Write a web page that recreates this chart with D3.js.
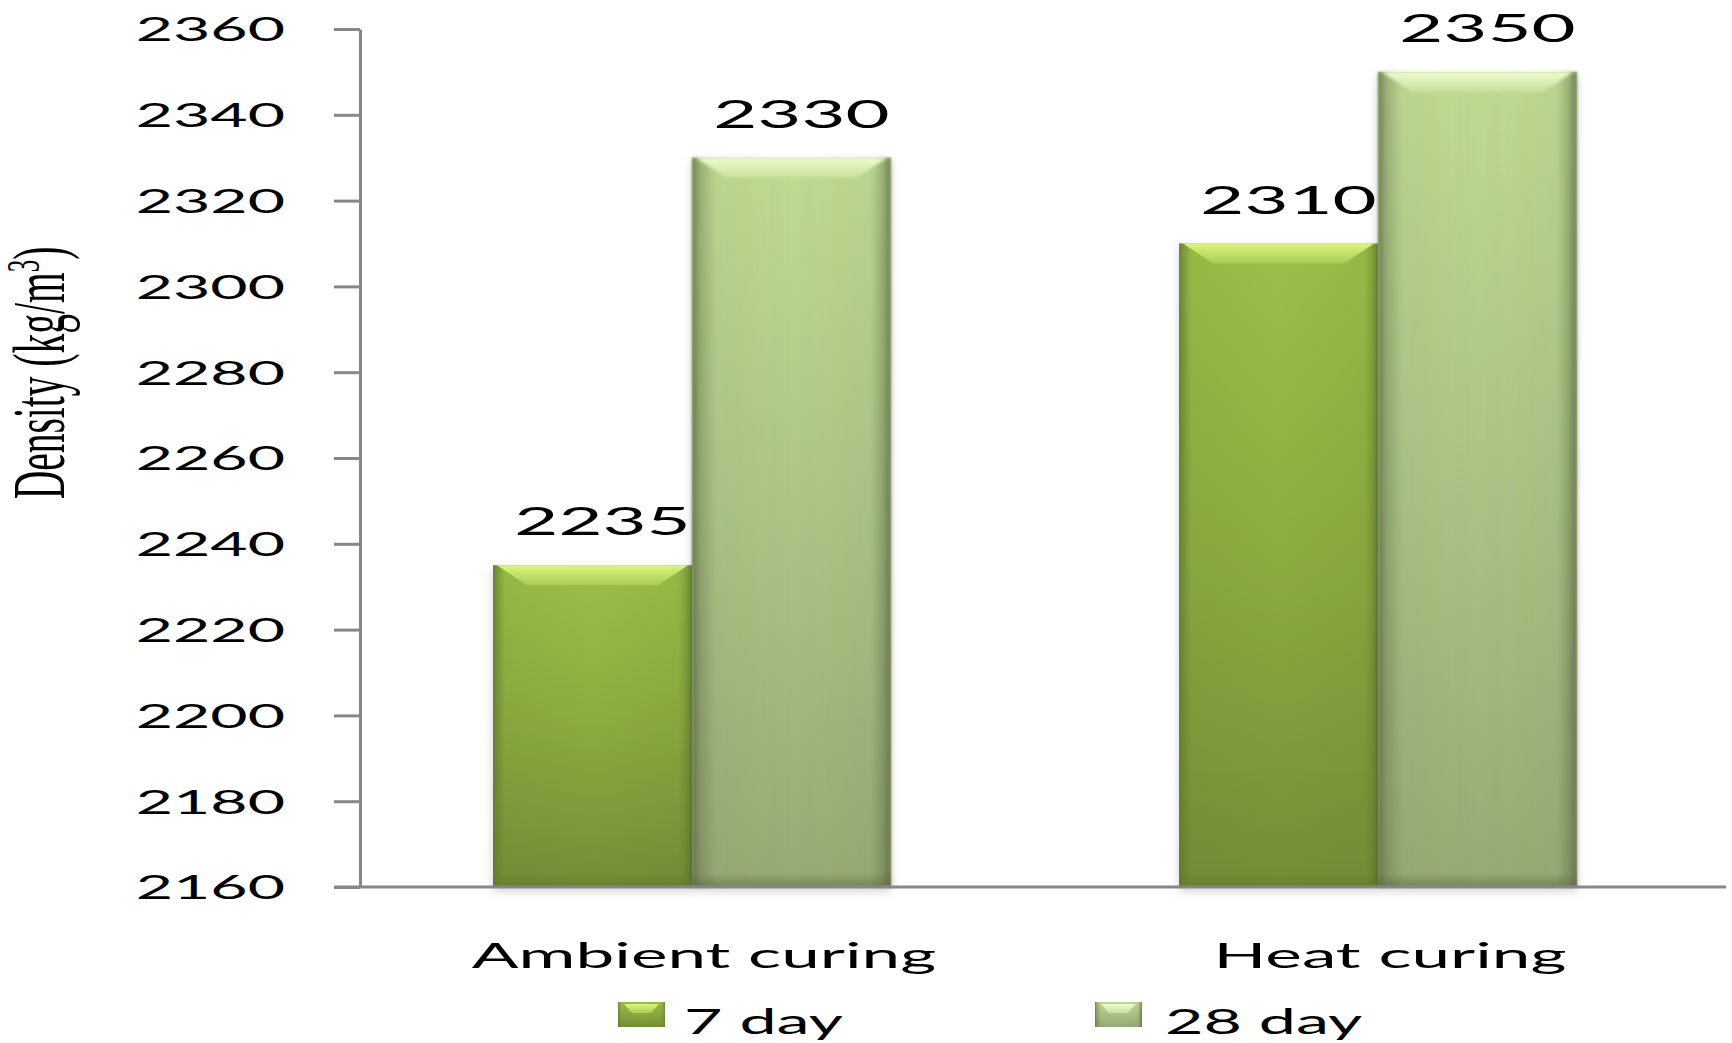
<!DOCTYPE html>
<html>
<head>
<meta charset="utf-8">
<script src="https://cdn.jsdelivr.net/npm/d3@7"></script>
<style>
  html, body { margin: 0; padding: 0; background: #ffffff; }
  svg { display: block; }
</style>
</head>
<body>
<svg id="chart" width="1732" height="1043"></svg>
<script>
// ---- data ----
const categories = ["Ambient curing", "Heat curing"];
const seriesNames = ["7 day", "28 day"];
const day7 = [2235, 2310];
const day28 = [2330, 2350];
const yTicks = [2160, 2180, 2200, 2220, 2240, 2260, 2280, 2300, 2320, 2340, 2360];
const yTitle = "Density (kg/m";
const yTitleSup = "3";

// ---- layout / style ----
const W = 1732, H = 1043;
const SX = 1.95;          // horizontal stretch of the text glyphs
const FONT = "Lato, 'Open Sans', sans-serif";
const axisColor = "#878787";

const svg = d3.select("#chart");
const defs = svg.append("defs");

// gradients
function vGrad(id, stops) {
  const g = defs.append("linearGradient").attr("id", id)
    .attr("x1", 0).attr("y1", 0).attr("x2", 0).attr("y2", 1);
  stops.forEach(s => g.append("stop").attr("offset", s[0]).attr("stop-color", s[1]).attr("stop-opacity", s[2] == null ? 1 : s[2]));
}
function hGrad(id, stops) {
  const g = defs.append("linearGradient").attr("id", id)
    .attr("x1", 0).attr("y1", 0).attr("x2", 1).attr("y2", 0);
  stops.forEach(s => g.append("stop").attr("offset", s[0]).attr("stop-color", s[1]).attr("stop-opacity", s[2] == null ? 1 : s[2]));
}
vGrad("g7", [[0, "#9bc048"], [0.5, "#8aab40"], [1, "#728e36"]]);
vGrad("g28", [[0, "#bfdb94"], [0.5, "#abc486"], [1, "#96ab74"]]);
hGrad("e7", [[0, "#5e7a2c", 0.85], [0.03, "#5e7a2c", 0.45], [0.06, "#5e7a2c", 0.1], [0.5, "#5e7a2c", 0], [0.93, "#5e7a2c", 0.1], [0.97, "#5e7a2c", 0.4], [1, "#5e7a2c", 0.7]]);
hGrad("e28", [[0, "#55603f", 0.75], [0.04, "#55603f", 0.35], [0.12, "#55603f", 0.05], [0.5, "#55603f", 0], [0.9, "#55603f", 0.05], [0.96, "#55603f", 0.35], [1, "#55603f", 0.75]]);
vGrad("b7", [[0, "#dcf57e"], [1, "#a8cc52"]]);
vGrad("b28", [[0, "#f0fcd0"], [1, "#c6e09a"]]);
vGrad("bot7", [[0, "#5e7a2a", 0], [1, "#5e7a2a", 0.6]]);
vGrad("bot28", [[0, "#55603f", 0], [1, "#55603f", 0.5]]);

const shadow = defs.append("filter").attr("id", "shadow")
  .attr("x", "-10%").attr("y", "-5%").attr("width", "120%").attr("height", "115%");
shadow.append("feDropShadow").attr("dx", 0).attr("dy", 4).attr("stdDeviation", 5)
  .attr("flood-color", "#000").attr("flood-opacity", 0.18);
const blur = defs.append("filter").attr("id", "soft").attr("x", "-5%").attr("width", "110%");
blur.append("feGaussianBlur").attr("stdDeviation", 1.5);

// scales
const y = d3.scaleLinear().domain([2160, 2360]).range([887, 29]);
const x0 = d3.scaleBand().domain(categories).range([349, 1721])
  .paddingInner(0.42).paddingOuter(0.21);
const x1 = d3.scaleBand().domain(seriesNames).range([0, x0.bandwidth()]);

const rows = [];
categories.forEach((c, i) => {
  rows.push({ cat: c, s: "7 day", v: day7[i], key: "7" });
  rows.push({ cat: c, s: "28 day", v: day28[i], key: "28" });
});

// bars
const barG = svg.append("g");
const bars = barG.selectAll("g.bar").data(rows).join("g").attr("class", "bar")
  .attr("transform", d => `translate(${x0(d.cat) + x1(d.s)},0)`);
const bw = x1.bandwidth();
bars.append("rect")
  .attr("x", 0).attr("y", d => y(d.v)).attr("width", bw).attr("height", d => y(2160) - y(d.v))
  .attr("fill", d => `url(#g${d.key})`).attr("filter", "url(#shadow)");
bars.append("rect")
  .attr("x", 0).attr("y", d => y(d.v)).attr("width", bw).attr("height", d => y(2160) - y(d.v))
  .attr("fill", d => `url(#e${d.key})`).attr("filter", d => d.key === "28" ? "url(#soft)" : null);
bars.append("rect")
  .attr("x", 0).attr("y", d => y(2160) - 14).attr("width", bw).attr("height", 14)
  .attr("fill", d => `url(#bot${d.key})`);
// top bevel
bars.append("path")
  .attr("d", d => {
    const t = y(d.v);
    return `M${4},${t} L${bw - 4},${t} L${bw - 34},${t + 20} L${34},${t + 20} Z`;
  })
  .attr("fill", d => `url(#b${d.key})`)
  .attr("filter", d => d.key === "28" ? "url(#soft)" : null);

// value labels
svg.append("g").selectAll("text").data(rows).join("text")
  .attr("transform", d => `translate(${x0(d.cat) + x1(d.s) + bw / 2 + 10},${y(d.v) - 30}) scale(${SX},1)`)
  .attr("text-anchor", "middle")
  .style("font-family", FONT).style("font-size", "39px").attr("fill", "#000")
  .text(d => d.v);

// y axis
const yAxis = svg.append("g").attr("transform", "translate(360,0)")
  .call(d3.axisLeft(y).tickValues(yTicks).tickSize(26).tickSizeOuter(0).tickFormat(d3.format("d")));
yAxis.select(".domain").attr("stroke", axisColor).attr("stroke-width", 3);
yAxis.selectAll(".tick line").attr("stroke", axisColor).attr("stroke-width", 3);
yAxis.selectAll(".tick text")
  .attr("x", null).attr("dy", "0.36em")
  .attr("transform", `translate(-75,0) scale(${SX},1)`)
  .style("font-family", FONT).style("font-size", "33px").attr("fill", "#000");

// x baseline
svg.append("line").attr("x1", 334).attr("x2", W - 6).attr("y1", y(2160)).attr("y2", y(2160))
  .attr("stroke", axisColor).attr("stroke-width", 3);

// x axis labels
const xAxis = svg.append("g").attr("transform", `translate(0,${y(2160)})`)
  .call(d3.axisBottom(x0).tickSize(0));
xAxis.select(".domain").remove();
xAxis.selectAll(".tick text")
  .attr("y", null).attr("dy", null)
  .attr("transform", `translate(12,81) scale(${SX},1)`)
  .style("font-family", FONT).style("font-size", "35.5px").attr("fill", "#000");

// y title
const yt = svg.append("text")
  .attr("transform", `translate(64,373) scale(1.85,1) rotate(-90)`)
  .attr("text-anchor", "middle")
  .style("font-family", "'Liberation Serif', 'Times New Roman', serif").style("font-size", "39.5px").attr("fill", "#000");
yt.append("tspan").text(yTitle);
yt.append("tspan").attr("baseline-shift", "super").style("font-size", "25px").text(yTitleSup);
yt.append("tspan").text(")");

// legend
const leg = svg.append("g").selectAll("g").data(seriesNames).join("g")
  .attr("transform", (d, i) => `translate(${618 + i * 477},1002)`);
leg.append("rect").attr("width", 47).attr("height", 25)
  .attr("fill", (d, i) => i === 0 ? "url(#g7)" : "url(#g28)");
leg.append("rect").attr("width", 47).attr("height", 25)
  .attr("fill", (d, i) => i === 0 ? "url(#e7)" : "url(#e28)");
leg.append("path").attr("d", "M6,2 L41,2 L33,11 L14,11 Z")
  .attr("fill", (d, i) => i === 0 ? "url(#b7)" : "url(#b28)");
leg.append("text")
  .attr("transform", (d, i) => `translate(${66 + i * 4},32) scale(${SX},1)`)
  .style("font-family", FONT).style("font-size", "34px").attr("fill", "#000")
  .text(d => d);
</script>
</body>
</html>
